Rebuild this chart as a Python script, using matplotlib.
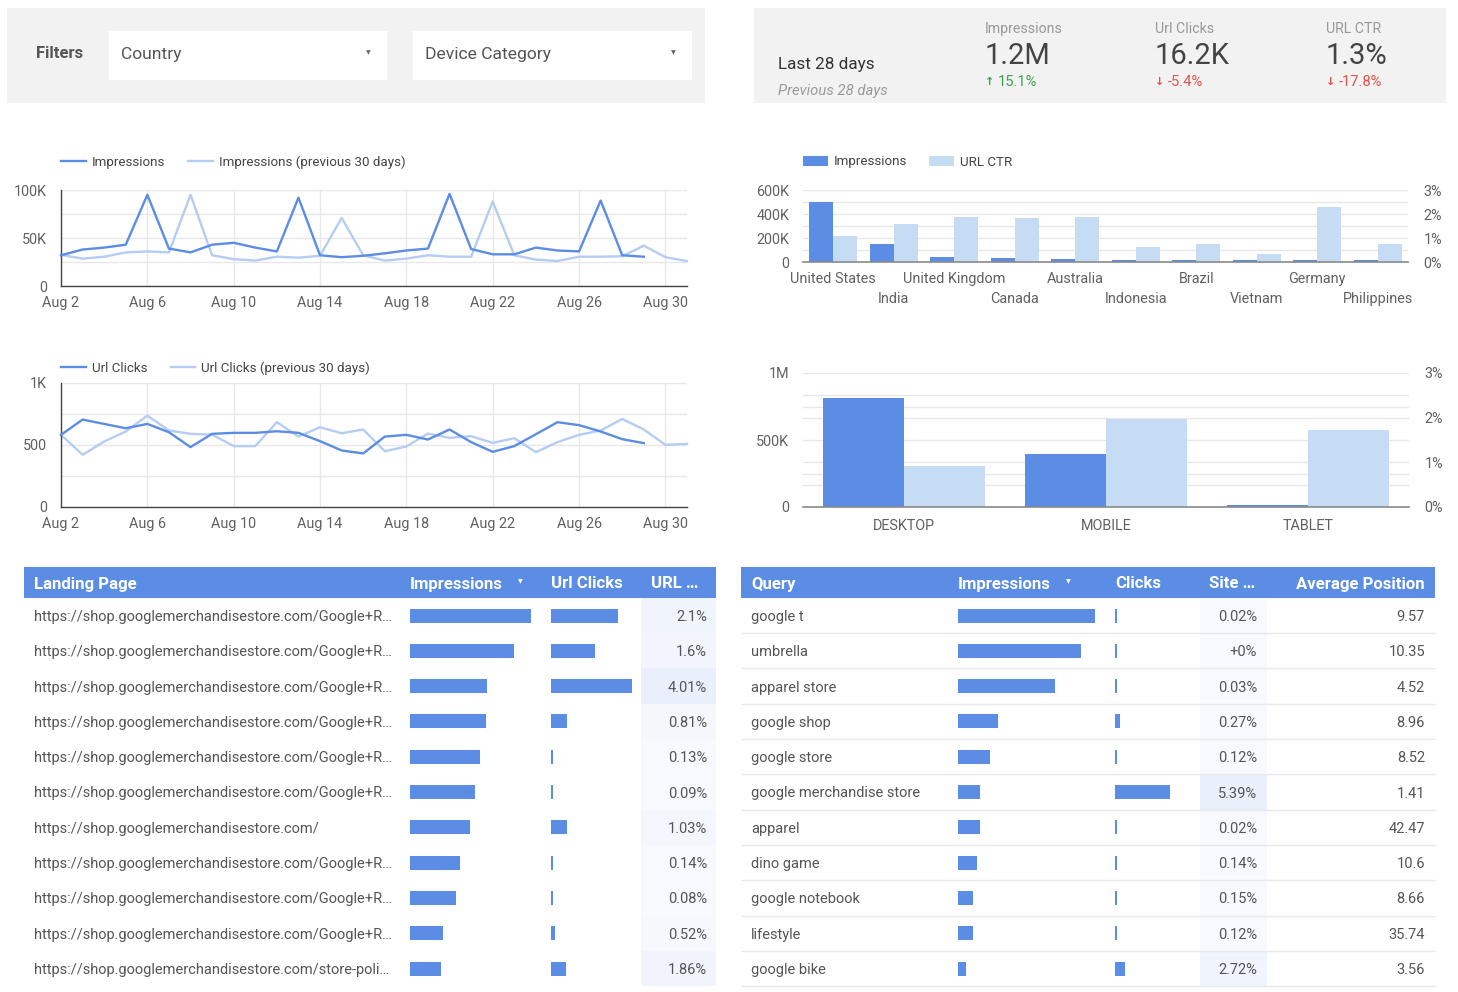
"""
Search Console style dashboard: filters, scorecards, daily trends,
country / device breakdown and two top-11 tables. Saves out.png.
"""
import numpy as np
import matplotlib
matplotlib.use("Agg")
import matplotlib.pyplot as plt
from matplotlib.colors import LinearSegmentedColormap
from matplotlib.patches import Rectangle
from matplotlib.ticker import FixedLocator, FuncFormatter, MultipleLocator

plt.rcParams["font.family"] = ["Roboto", "DejaVu Sans"]

# ---------------------------------------------------------------------------
# DATA
# ---------------------------------------------------------------------------
DAYS_CUR = list(range(2, 30))      # Aug 2 .. Aug 29
DAYS_PREV = list(range(2, 32))     # Aug 2 .. Aug 31

IMPRESSIONS = [32e3, 38e3, 40e3, 43e3, 95e3, 39e3, 35e3, 43e3, 45e3, 40e3,
               36e3, 92e3, 32e3, 30e3, 31.5e3, 34e3, 37e3, 39e3, 96e3, 38.5e3,
               33e3, 33e3, 40e3, 37e3, 36e3, 89e3, 32e3, 30.5e3]
IMPRESSIONS_PREV = [32.5e3, 28.5e3, 30.5e3, 35e3, 36e3, 35e3, 95e3, 32e3, 28e3, 26.5e3,
                    30.5e3, 29.5e3, 31.5e3, 71e3, 32e3, 26.5e3, 28.5e3, 32e3, 30.5e3, 30.5e3,
                    88e3, 32e3, 27.5e3, 26e3, 30.5e3, 30.5e3, 31e3, 42e3, 30e3, 26e3]

CLICKS = [582, 705, 670, 635, 670, 603, 483, 590, 598, 598,
          611, 598, 531, 456, 432, 568, 582, 544, 625, 523,
          445, 491, 587, 684, 660, 609, 547, 515]
CLICKS_PREV = [582, 421, 528, 609, 737, 617, 590, 584, 491, 491,
               684, 568, 643, 595, 625, 450, 488, 592, 558, 571,
               517, 555, 442, 523, 582, 617, 710, 625, 501, 509]

COUNTRIES = ["United States", "India", "United Kingdom", "Canada", "Australia",
             "Indonesia", "Brazil", "Vietnam", "Germany", "Philippines"]
COUNTRY_IMPRESSIONS = [500e3, 153e3, 42e3, 33e3, 25e3, 20e3, 17e3, 14e3, 14e3, 14e3]
COUNTRY_CTR = [1.07, 1.59, 1.88, 1.84, 1.88, 0.61, 0.77, 0.32, 2.30, 0.73]

DEVICES = ["DESKTOP", "MOBILE", "TABLET"]
DEVICE_IMPRESSIONS = [813e3, 397e3, 17e3]
DEVICE_CTR = [0.92, 1.98, 1.73]

SCORE_LABELS = ["Impressions", "Url Clicks", "URL CTR"]
SCORE_VALUES = ["1.2M", "16.2K", "1.3%"]
SCORE_DELTAS = [15.1, -5.4, -17.8]

PAGE_URL = "https://shop.googlemerchandisestore.com/Google+R…"
PAGES = [PAGE_URL] * 6 + ["https://shop.googlemerchandisestore.com/"] + [PAGE_URL] * 3 + \
        ["https://shop.googlemerchandisestore.com/store-poli…"]
PAGE_IMPRESSIONS = [24.2e3, 20.8e3, 15.4e3, 15.2e3, 14.0e3, 13.0e3, 12.0e3, 10.0e3, 9.2e3, 6.6e3, 6.2e3]
PAGE_CLICKS = [508, 333, 618, 123, 18, 12, 124, 14, 7, 34, 115]
PAGE_CTR = [2.1, 1.6, 4.01, 0.81, 0.13, 0.09, 1.03, 0.14, 0.08, 0.52, 1.86]

QUERIES = ["google t", "umbrella", "apparel store", "google shop", "google store",
           "google merchandise store", "apparel", "dino game", "google notebook",
           "lifestyle", "google bike"]
QUERY_IMPRESSIONS = [68.5e3, 61.5e3, 48.5e3, 20e3, 16e3, 11e3, 11e3, 9.5e3, 7.5e3, 7.5e3, 4e3]
QUERY_CLICKS = [14, 1, 15, 54, 19, 593, 2, 13, 11, 9, 109]
QUERY_CTR = [0.02, 0.0016, 0.03, 0.27, 0.12, 5.39, 0.02, 0.14, 0.15, 0.12, 2.72]
QUERY_POSITION = [9.57, 10.35, 4.52, 8.96, 8.52, 1.41, 42.47, 10.6, 8.66, 35.74, 3.56]

# ---------------------------------------------------------------------------
# STYLE
# ---------------------------------------------------------------------------
DARK = "#5b8de4"
LIGHT_BAR = "#c6dcf5"
LIGHT_LINE = "#b5cdf3"
GRID = "#e8e8e8"
TICK = "#616161"
TEXT = "#555555"
PANEL = "#f2f2f2"
HEAT = LinearSegmentedColormap.from_list("heat", ["#f8f9fe", "#e9effb"])
TICK_FS = 10.4
LEGEND_FS = 9.6
BODY_FS = 10.5

W, H = 1458, 992
fig = plt.figure(figsize=(W / 100, H / 100), dpi=100)


def frac_rect(x0, y0, x1, y1):
    return [x0 / W, 1 - y1 / H, (x1 - x0) / W, (y1 - y0) / H]


def frac_pt(x, y):
    return (x / W, 1 - y / H)


def k_fmt(v, _):
    if v >= 1e6:
        return f"{v / 1e6:g}M"
    if v >= 1e3:
        return f"{v / 1e3:g}K"
    return f"{v:g}"


def pct_label(v):
    if v < 0.005:
        return "+0%"
    return f"{v:.2f}".rstrip("0").rstrip(".") + "%"


# overlay in pixel coordinates for panels and tables
ov = fig.add_axes([0, 0, 1, 1])
ov.set_xlim(0, W)
ov.set_ylim(H, 0)
ov.axis("off")

# ---------------------------------------------------------------------------
# FILTERS + SCORECARD
# ---------------------------------------------------------------------------
ov.add_patch(Rectangle((7, 8), 698, 95, color=PANEL, lw=0))
ov.text(36, 54, "Filters", fontsize=12, weight="bold", color=TEXT, va="center")
for x0, x1, name in [(109, 387, "Country"), (413, 692, "Device Category")]:
    ov.add_patch(Rectangle((x0, 31), x1 - x0, 49, color="white", lw=0))
    ov.text(x0 + 12, 55, name, fontsize=12.6, color=TEXT, va="center")
    ov.text(x1 - 19, 53, "▼", fontsize=4.5, color="#666666", va="center", ha="center",
            family="DejaVu Sans")

ov.add_patch(Rectangle((754, 8), 692, 95, color=PANEL, lw=0))
ov.text(778, 65, "Last 28 days", fontsize=12.3, color="#333333", va="center")
ov.text(778, 91, "Previous 28 days", fontsize=10.7, color="#9a9a9a", style="italic", va="center")
for x, label, value, delta in zip([985, 1155, 1326], SCORE_LABELS, SCORE_VALUES, SCORE_DELTAS):
    ov.text(x, 29, label, fontsize=10.2, color="#999999", va="center")
    ov.text(x, 56, value, fontsize=21, color="#444444", va="center")
    col = "#3f9e4a" if delta > 0 else "#e0524a"
    arrow = "↑" if delta > 0 else "↓"
    ov.text(x, 82, arrow, fontsize=8, color=col, va="center", weight="bold", family="DejaVu Sans")
    ov.text(x + 13, 82, f"{delta:g}%", fontsize=10.6, color=col, va="center")


# ---------------------------------------------------------------------------
# LINE CHARTS
# ---------------------------------------------------------------------------
def line_chart(box, cur, prev, ymax, names, legend_y):
    ax = fig.add_axes(frac_rect(*box))
    ax.set_facecolor("none")
    ax.plot(DAYS_CUR, cur, color=DARK, lw=1.7, label=names[0], zorder=3, clip_on=False)
    ax.plot(DAYS_PREV, prev, color=LIGHT_LINE, lw=1.7, label=names[1], zorder=2, clip_on=False)
    ax.set_xlim(2, 31)
    ax.set_ylim(0, ymax)
    ax.set_xticks(range(2, 31, 4))
    ax.set_xticklabels([f"Aug {d}" for d in range(2, 31, 4)])
    ax.yaxis.set_major_locator(FixedLocator([0, ymax / 2, ymax]))
    ax.yaxis.set_minor_locator(MultipleLocator(ymax / 4))
    ax.yaxis.set_major_formatter(FuncFormatter(k_fmt))
    ax.grid(which="both", axis="y", color=GRID, lw=1, zorder=0)
    ax.grid(which="major", axis="x", color=GRID, lw=1, zorder=0)
    ax.set_axisbelow(True)
    for s in ["top", "right"]:
        ax.spines[s].set_visible(False)
    for s in ["left", "bottom"]:
        ax.spines[s].set_color("#444444")
        ax.spines[s].set_linewidth(1)
    ax.tick_params(axis="x", length=0, pad=7, labelsize=TICK_FS, labelcolor=TICK)
    ax.tick_params(axis="y", which="both", length=0, pad=10, labelsize=TICK_FS, labelcolor=TICK)
    ax.legend(loc="center left", bbox_to_anchor=frac_pt(box[0], legend_y),
              bbox_transform=fig.transFigure, frameon=False, ncol=2, fontsize=LEGEND_FS,
              labelcolor="#444444", handlelength=1.85, handletextpad=0.45,
              columnspacing=1.75, borderpad=0, borderaxespad=0)
    return ax


line_chart((61, 190, 687, 286), IMPRESSIONS, IMPRESSIONS_PREV, 100e3,
           ["Impressions", "Impressions (previous 30 days)"], 162)
line_chart((61, 383, 687, 507), CLICKS, CLICKS_PREV, 1000,
           ["Url Clicks", "Url Clicks (previous 30 days)"], 368)


# ---------------------------------------------------------------------------
# BAR CHARTS (impressions left axis, CTR right axis)
# ---------------------------------------------------------------------------
def bar_chart(box, cats, imps, ctr, ymax, grid_ticks, major_ticks):
    ax = fig.add_axes(frac_rect(*box))
    ax2 = ax.twinx()
    ax.set_facecolor("none")
    ax2.set_facecolor("none")
    x = np.arange(len(cats))
    b1 = ax.bar(x - 0.2, imps, width=0.4, color=DARK, label="Impressions", zorder=2)
    b2 = ax2.bar(x + 0.2, ctr, width=0.4, color=LIGHT_BAR, label="URL CTR", zorder=2)
    ax.set_xlim(-0.5, len(cats) - 0.5)
    ax.set_ylim(0, ymax)
    ax2.set_ylim(0, 3)
    ax.yaxis.set_major_locator(FixedLocator(major_ticks))
    ax.yaxis.set_minor_locator(FixedLocator(grid_ticks))
    ax.yaxis.set_major_formatter(FuncFormatter(k_fmt))
    ax2.yaxis.set_major_locator(FixedLocator([0, 1, 2, 3]))
    ax2.yaxis.set_major_formatter(FuncFormatter(lambda v, _: f"{v:g}%"))
    ax.grid(which="both", axis="y", color=GRID, lw=1, zorder=0)
    ax.set_axisbelow(True)
    ax2.grid(False)
    for a in (ax, ax2):
        for s in a.spines.values():
            s.set_visible(False)
    ax2.spines["bottom"].set_visible(True)
    ax2.spines["bottom"].set_color("#8a8a8a")
    ax2.spines["bottom"].set_linewidth(1.2)
    ax.tick_params(axis="y", which="both", length=0, pad=10, labelsize=TICK_FS, labelcolor=TICK)
    ax2.tick_params(axis="y", length=0, pad=11, labelsize=TICK_FS, labelcolor=TICK)
    return ax, ax2, b1, b2


# countries
ax_c, ax_c2, cb1, cb2 = bar_chart((803, 190, 1408, 262), COUNTRIES, COUNTRY_IMPRESSIONS,
                                  COUNTRY_CTR, 600e3, np.arange(0, 600001, 100e3),
                                  [0, 200e3, 400e3, 600e3])
idx = np.arange(len(COUNTRIES))
ax_c.set_xticks(idx[::2])
ax_c.set_xticklabels(COUNTRIES[::2])
ax_c.set_xticks(idx[1::2], minor=True)
ax_c.set_xticklabels(COUNTRIES[1::2], minor=True)
ax_c.tick_params(axis="x", which="major", length=0, pad=7, labelsize=TICK_FS, labelcolor=TICK)
ax_c.tick_params(axis="x", which="minor", length=0, pad=21.5, labelsize=TICK_FS, labelcolor=TICK)
ax_c.legend(handles=[cb1, cb2], loc="center left", bbox_to_anchor=frac_pt(803, 162),
            bbox_transform=fig.transFigure, frameon=False, ncol=2, fontsize=LEGEND_FS,
            labelcolor="#444444", handlelength=1.85, handleheight=0.85, handletextpad=0.45,
            columnspacing=1.65, borderpad=0, borderaxespad=0)

# devices
grid_dev = sorted(set(np.arange(0, 1e6 + 1, 250e3).tolist() + np.linspace(0, 1e6, 7).tolist()))
ax_d, ax_d2, _, _ = bar_chart((803, 373, 1409, 507), DEVICES, DEVICE_IMPRESSIONS, DEVICE_CTR,
                              1e6, grid_dev, [0, 500e3, 1e6])
ax_d.set_xticks(np.arange(len(DEVICES)))
ax_d.set_xticklabels(DEVICES)
ax_d.tick_params(axis="x", length=0, pad=9, labelsize=TICK_FS, labelcolor=TICK)

# ---------------------------------------------------------------------------
# TABLES
# ---------------------------------------------------------------------------
ROW0, ROW_H, BAR_H = 615.5, 35.3, 14
TXT_DY = 1.5          # optical centring of row text
HDR_Y, HDR_H, HDR_BASE = 567, 31, 588.5
HDR_KW = dict(fontsize=12.1, weight="bold", color="white", va="baseline")

# landing pages
rows = ROW0 + ROW_H * np.arange(len(PAGES))
ov.add_patch(Rectangle((24, HDR_Y), 692, HDR_H, color=DARK, lw=0))
ov.text(34, HDR_BASE, "Landing Page", **HDR_KW)
ov.text(410, HDR_BASE, "Impressions", **HDR_KW)
ov.text(518, 582, "▼", fontsize=4.5, color="white", va="center", family="DejaVu Sans")
ov.text(551, HDR_BASE, "Url Clicks", **HDR_KW)
ov.text(651, HDR_BASE, "URL …", **HDR_KW)
for y, v in zip(rows, PAGE_CTR):
    ov.add_patch(Rectangle((641, y - ROW_H / 2), 75, ROW_H, color=HEAT(v / max(PAGE_CTR)), lw=0))
    ov.text(707, y + TXT_DY, pct_label(v), fontsize=BODY_FS, color=TEXT, va="center", ha="right")
for y, page in zip(rows, PAGES):
    ov.text(34, y + TXT_DY, page, fontsize=BODY_FS, color=TEXT, va="center")
imp_w = np.array(PAGE_IMPRESSIONS) * (121 / max(PAGE_IMPRESSIONS))
clk_w = np.maximum(np.array(PAGE_CLICKS) * (81 / max(PAGE_CLICKS)), 1.6)
ov.barh(rows, imp_w, left=410, height=BAR_H, color=DARK)
ov.barh(rows, clk_w, left=551, height=BAR_H, color=DARK)

# queries
rows = ROW0 + ROW_H * np.arange(len(QUERIES))
ov.add_patch(Rectangle((741, HDR_Y), 694, HDR_H, color=DARK, lw=0))
ov.text(751, HDR_BASE, "Query", **HDR_KW)
ov.text(958, HDR_BASE, "Impressions", **HDR_KW)
ov.text(1066, 582, "▼", fontsize=4.5, color="white", va="center", family="DejaVu Sans")
ov.text(1115, HDR_BASE, "Clicks", **HDR_KW)
ov.text(1209, HDR_BASE, "Site …", **HDR_KW)
ov.text(1425, HDR_BASE, "Average Position", ha="right", **HDR_KW)
for y, v in zip(rows, QUERY_CTR):
    ov.add_patch(Rectangle((1200, y - ROW_H / 2), 67, ROW_H, color=HEAT(v / max(QUERY_CTR)), lw=0))
    ov.text(1257, y + TXT_DY, pct_label(v), fontsize=BODY_FS, color=TEXT, va="center", ha="right")
ov.hlines(rows + ROW_H / 2, 741, 1435, color="#e9e9e9", lw=1)
for y, q, pos in zip(rows, QUERIES, QUERY_POSITION):
    ov.text(751, y + TXT_DY, q, fontsize=BODY_FS, color=TEXT, va="center")
    ov.text(1425, y + TXT_DY, f"{pos:g}", fontsize=BODY_FS, color=TEXT, va="center", ha="right")
imp_w = np.array(QUERY_IMPRESSIONS) * (137 / max(QUERY_IMPRESSIONS))
clk_w = np.maximum(np.array(QUERY_CLICKS) * (55 / max(QUERY_CLICKS)), 1.6)
ov.barh(rows, imp_w, left=958, height=BAR_H, color=DARK)
ov.barh(rows, clk_w, left=1115, height=BAR_H, color=DARK)

fig.savefig("out.png", dpi=100)
